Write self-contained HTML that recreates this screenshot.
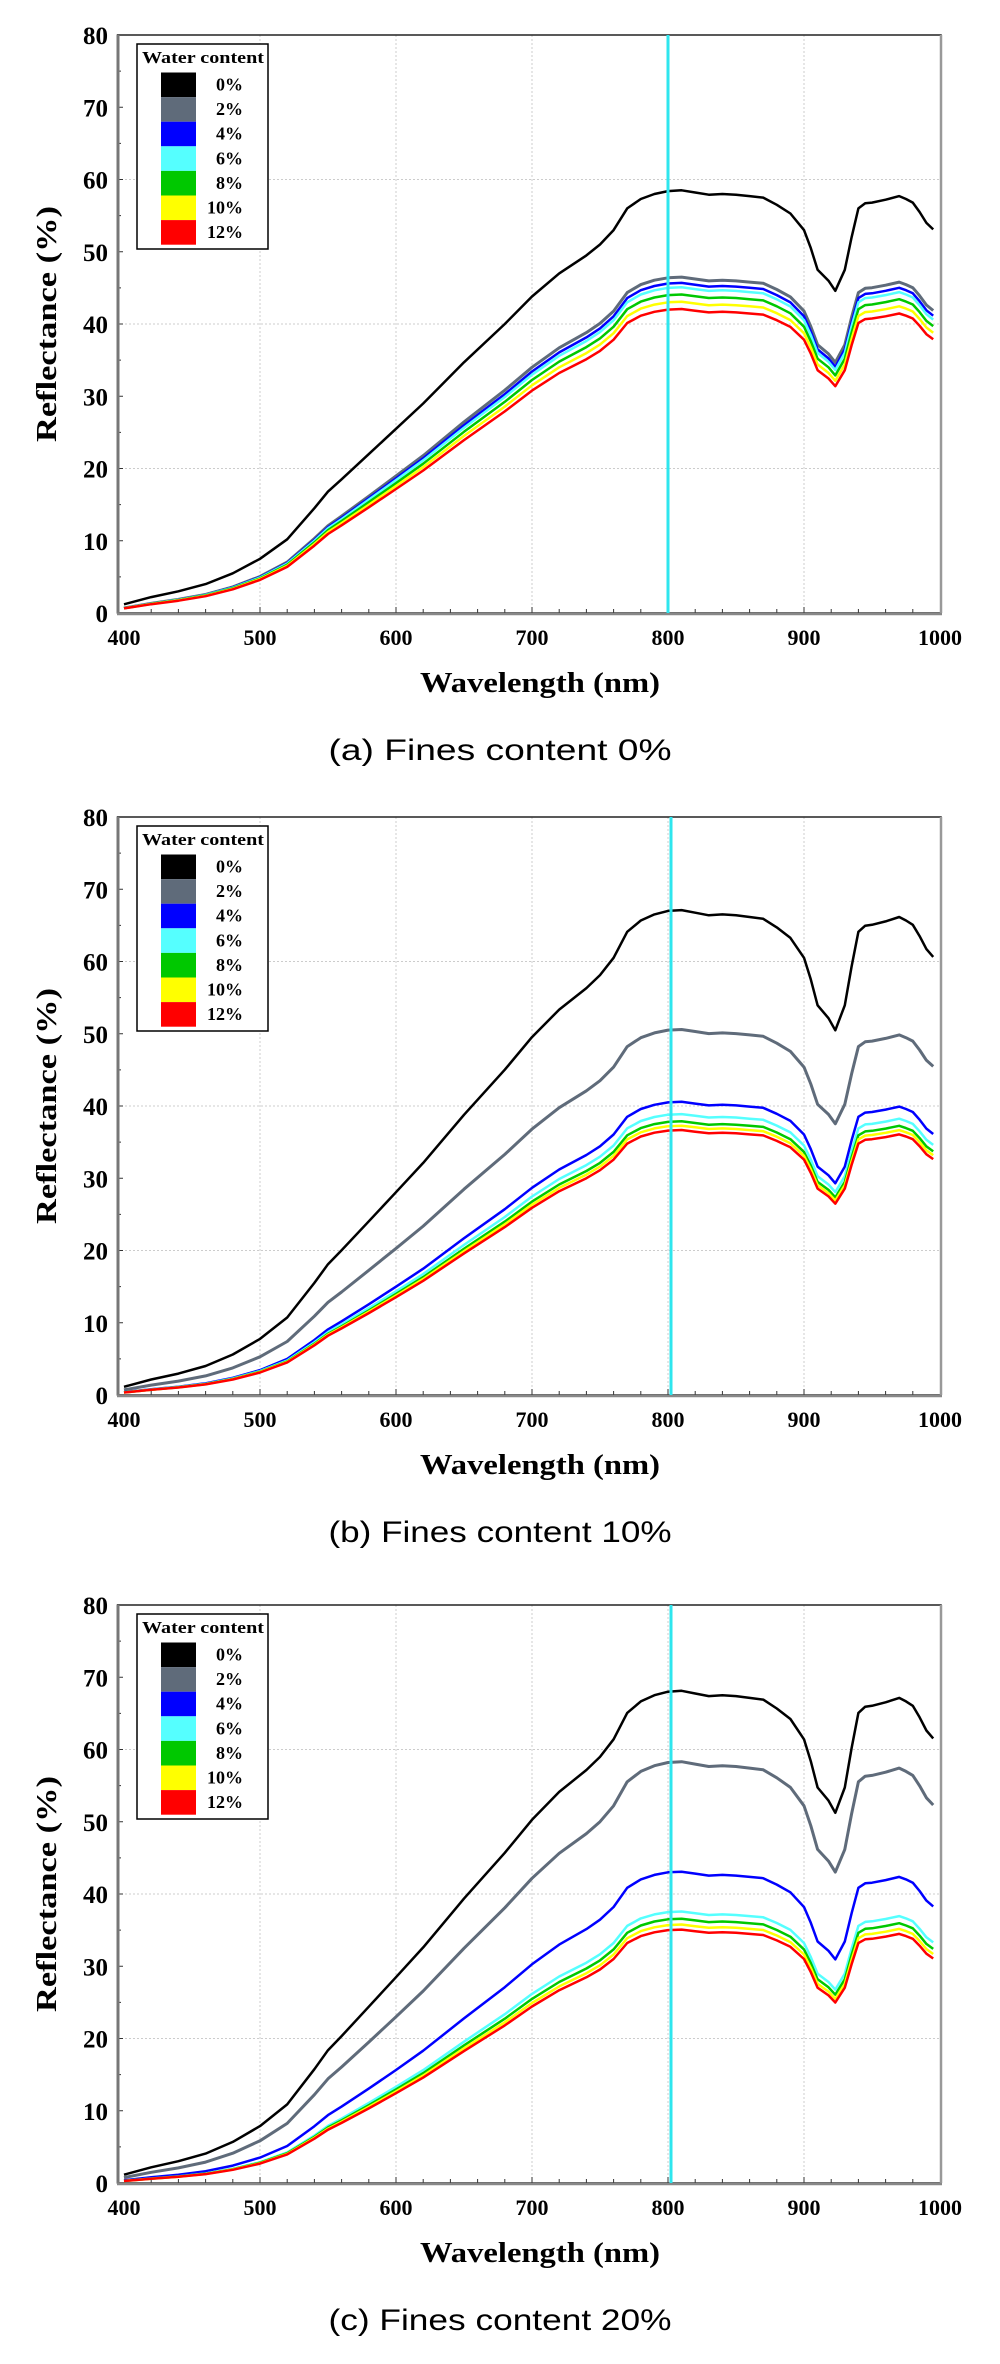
<!DOCTYPE html>
<html><head><meta charset="utf-8">
<style>
html,body{margin:0;padding:0;background:#fff;}
svg{display:block;}
text{font-family:"Liberation Serif",serif;font-weight:bold;fill:#000;}
.cap{font-family:"Liberation Sans",sans-serif;font-weight:normal;}
</style></head>
<body>
<svg id="s" width="1000" height="2364" xmlns="http://www.w3.org/2000/svg"></svg>
<script>
const svg=document.getElementById('s');
let out='';
const P=[[400,1.2],[420,2.2],[440,3],[460,4],[480,5.5],[500,7.5],[520,10.2],[540,14.5],[550,16.8],[560,18.5],[580,22],[600,25.5],[620,29],[650,34.7],[680,40],[700,43.8],[720,47],[740,49.5],[750,51],[760,53],[770,56],[780,57.3],[790,58],[800,58.4],[810,58.5],[820,58.2],[830,57.9],[840,58],[850,57.9],[860,57.7],[870,57.5],[880,56.5],[890,55.3],[900,53],[905,50.5],[910,47.5],[918,46],[923,44.6],[930,47.5],[935,52],[940,56],[945,56.7],[950,56.8],[960,57.2],[970,57.7],[975,57.3],[980,56.8],[985,55.5],[990,54],[995,53.1]];
const colors=['#000000','#5f6b7a','#0000ff','#55ffff','#00c800','#ffff00','#ff0000'];
const labels=['0%','2%','4%','6%','8%','10%','12%'];
const panels=[
 {oy:0,cx:668,cap:'(a) Fines content 0%',s:[[58.4,1],[46.4,1.08],[45.6,1.08],[45,1.08],[44,1.08],[43,1.08],[42,1.08]]},
 {oy:782,cx:671,cap:'(b) Fines content 10%',s:[[67,1.05],[50.5,1.1],[40.5,1.2],[38.8,1.2],[37.8,1.2],[37.2,1.2],[36.6,1.2]]},
 {oy:1570,cx:671,cap:'(c) Fines content 20%',s:[[68,1.05],[58.2,1.12],[43,1.22],[37.5,1.25],[36.5,1.25],[35.7,1.25],[35,1.25]]}
];
const X=w=>124+(w-400)*1.36;
for(const p of panels){
 const top=35+p.oy, bot=613+p.oy;
 const Y=v=>bot-v*7.225;
 // grid
 for(let w=500;w<=900;w+=100) out+=`<line x1="${X(w)}" y1="${top}" x2="${X(w)}" y2="${bot}" stroke="#ccc" stroke-width="1" stroke-dasharray="2,2"/>`;
 for(let v=20;v<80;v+=20) out+=`<line x1="117" y1="${Y(v)}" x2="941" y2="${Y(v)}" stroke="#ccc" stroke-width="1" stroke-dasharray="2,2"/>`;
 // ticks
 for(let v=5;v<80;v+=5) out+=`<line x1="117" y1="${Y(v)}" x2="${v%10?121:123}" y2="${Y(v)}" stroke="#333" stroke-width="1"/>`;
 for(let w=420;w<1000;w+=20) out+=`<line x1="${X(w)}" y1="${bot}" x2="${X(w)}" y2="${bot-(w%100?4:6)}" stroke="#333" stroke-width="1"/>`;
 // frame
 out+=`<rect x="117.5" y="${top}" width="823.5" height="${bot-top}" fill="none" stroke="#222" stroke-width="1.5"/>`;
 out+=`<line x1="118" y1="${top}" x2="118" y2="${bot}" stroke="#777" stroke-width="3"/>`;
 out+=`<line x1="117" y1="${bot+1}" x2="942" y2="${bot+1}" stroke="#888" stroke-width="2.5"/>`;
 out+=`<line x1="941" y1="${top}" x2="941" y2="${bot}" stroke="#999" stroke-width="2.5"/>`;
 // series
 p.s.forEach((sr,i)=>{
   const pts=P.map(([w,v])=>{const n=v/58.4;return X(w).toFixed(1)+','+Y(sr[0]*Math.pow(n,sr[1])).toFixed(1);}).join(' ');
   out+=`<polyline points="${pts}" fill="none" stroke="${colors[i]}" stroke-width="${i==1?3:2.5}" stroke-linejoin="round"/>`;
 });
 // cyan line
 out+=`<line x1="${p.cx}" y1="${top}" x2="${p.cx}" y2="${bot}" stroke="#2ee6ee" stroke-width="3"/>`;
 // y labels
 for(let v=0;v<=80;v+=10) out+=`<text x="108" y="${Y(v)+9}" font-size="25" text-anchor="end">${v}</text>`;
 for(let w=400;w<=1000;w+=100) out+=`<text x="${X(w)}" y="${645+p.oy}" font-size="22" text-anchor="middle">${w}</text>`;
 out+=`<text x="540" y="${692+p.oy}" font-size="28" text-anchor="middle" textLength="240" lengthAdjust="spacingAndGlyphs">Wavelength (nm)</text>`;
 out+=`<text transform="translate(56,${324+p.oy}) rotate(-90)" font-size="28" text-anchor="middle" textLength="236" lengthAdjust="spacingAndGlyphs">Reflectance (%)</text>`;
 out+=`<text class="cap" x="500" y="${760+p.oy}" font-size="30" text-anchor="middle" textLength="343" lengthAdjust="spacingAndGlyphs">${p.cap}</text>`;
 // legend
 const lt=44+p.oy;
 out+=`<rect x="137" y="${lt}" width="131" height="205" fill="#fff" stroke="#000" stroke-width="1.5"/>`;
 out+=`<text x="142" y="${lt+19}" font-size="17" textLength="122" lengthAdjust="spacingAndGlyphs">Water content</text>`;
 for(let i=0;i<7;i++){
   const ry=lt+28.5+i*24.6;
   out+=`<rect x="161" y="${ry}" width="35" height="24.6" fill="${colors[i]}"/>`;
   out+=`<text x="243" y="${ry+18}" font-size="18" text-anchor="end">${labels[i]}</text>`;
 }
}
svg.innerHTML=out;
</script>
</body></html>
